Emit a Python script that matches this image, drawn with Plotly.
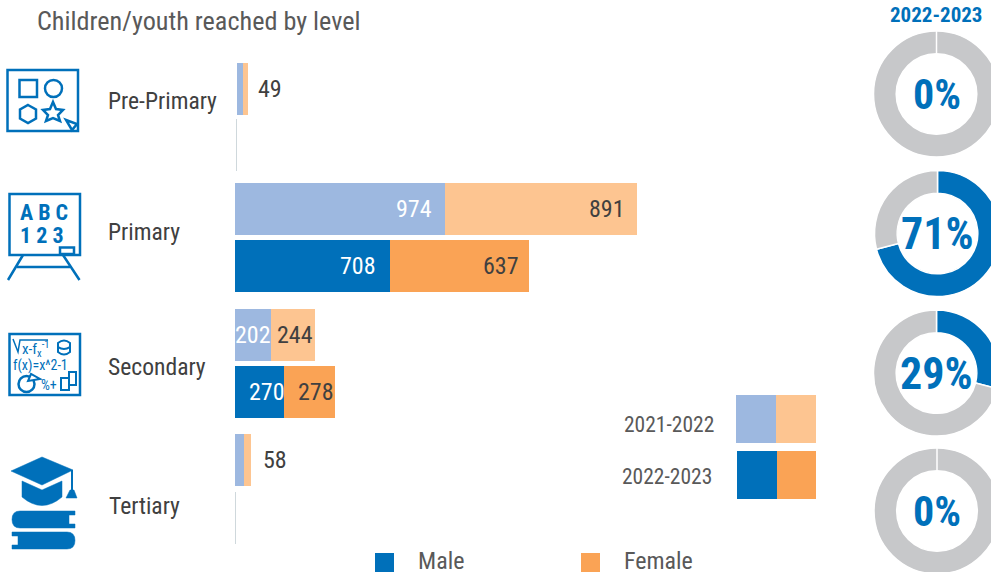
import plotly.graph_objects as go

# ---------- data ----------
categories = ["Pre-Primary", "Primary", "Secondary", "Tertiary"]
years = ["2021-2022", "2022-2023"]
male_2021 = [27, 974, 202, 33]
female_2021 = [22, 891, 244, 25]
male_2022 = [0, 708, 270, 0]
female_2022 = [0, 637, 278, 0]
share_2022 = [0, 71, 29, 0]
title_text = "Children/youth reached by level"

# ---------- styling / layout ----------
W, H = 1010, 590
FONT = "Roboto Condensed, Liberation Sans Narrow, Roboto, sans-serif"
BLUE, ORANGE, LBLUE, LORANGE = "#0070BA", "#FAA355", "#9DB8E0", "#FDC591"
GREY, TXT, TXT2 = "#C7C8CA", "#404040", "#595959"

# axis origin px, px per unit, top px, bottom px, inner label padding (male, female)
row_layout = [
    (237, 0.2245, 63, 115, None), (236.5, 0.2245, 119, 171, None),
    (235, 0.2155, 183, 235, (11, 10)), (235, 0.2186, 240, 292, (12, 8)),
    (235, 0.1800, 309, 361, (-2, 0)), (235, 0.1820, 366, 418, (-3, -1)),
    (235, 0.276, 434, 486, None), (235.5, 0.276, 492, 544, None),
]
row_values = []
for i in range(4):
    row_values.append((male_2021[i], female_2021[i]))
    row_values.append((male_2022[i], female_2022[i]))
donut_centers = [(936.5, 94), (937.5, 233.5), (936.5, 373), (937, 511)]
donut_r = 63

fig = go.Figure()
annotations, shapes = [], []
layout = {}
SPAN = 600
NUM = 24


def note(text, x, y, size, color=TXT, anchor="left", bold=False, xref="x9", yref="y9", xshift=0, family=FONT):
    annotations.append(dict(
        text=f"<b>{text}</b>" if bold else text, x=x, y=y, xref=xref, yref=yref, xshift=xshift,
        xanchor=anchor, yanchor="middle", showarrow=False,
        font=dict(family=family, size=size, color=color),
    ))


for r, ((x0, scale, top, bottom, pads), (m, f)) in enumerate(zip(row_layout, row_values), start=1):
    xa, ya = f"x{r}", f"y{r}"
    year = years[(r - 1) % 2]
    dark = (r - 1) % 2 == 1
    fig.add_trace(go.Bar(y=[0], x=[m], orientation="h", xaxis=xa, yaxis=ya, width=1,
                         marker=dict(color=BLUE if dark else LBLUE, line_width=0),
                         name="Male " + year, showlegend=False, hoverinfo="x"))
    fig.add_trace(go.Bar(y=[0], x=[f], orientation="h", xaxis=xa, yaxis=ya, width=1,
                         marker=dict(color=ORANGE if dark else LORANGE, line_width=0),
                         name="Female " + year, showlegend=False, hoverinfo="x"))
    layout[f"xaxis{r}"] = dict(domain=[x0 / W, (x0 + SPAN) / W], range=[0, SPAN / scale], visible=False,
                               anchor=ya, fixedrange=True)
    total = m + f
    layout[f"yaxis{r}"] = dict(domain=[1 - bottom / H, 1 - top / H], range=[-0.5, 0.5], anchor=xa,
                               showticklabels=False, ticks="", showgrid=False, zeroline=False,
                               showline=total == 0, linecolor="#CFD8DC", linewidth=1, fixedrange=True)
    if pads:
        annotations.append(dict(text=str(m), x=m, y=0, xref=xa, yref=ya, xanchor="right", xshift=-pads[0],
                                showarrow=False, font=dict(family=FONT, size=NUM, color="white")))
        annotations.append(dict(text=str(f), x=total, y=0, xref=xa, yref=ya, xanchor="right", xshift=-pads[1],
                                showarrow=False, font=dict(family=FONT, size=NUM, color=TXT)))
    elif total:
        annotations.append(dict(text=str(total), x=total, y=0, xref=xa, yref=ya, xanchor="left",
                                xshift=8 if r == 1 else 10, yshift=0, showarrow=False,
                                font=dict(family=FONT, size=NUM, color=TXT)))
barmode = "stack"

# donuts
for share, (cx, cy) in zip(share_2022, donut_centers):
    fig.add_trace(go.Pie(values=[share, 100 - share], sort=False, direction="clockwise", rotation=0,
                         hole=0.64, textinfo="none", hoverinfo="percent", showlegend=False,
                         marker=dict(colors=[BLUE, GREY], line=dict(color="white", width=1.5)),
                         domain=dict(x=[(cx - donut_r) / W, (cx + donut_r) / W],
                                     y=[1 - (cy + donut_r) / H, 1 - (cy - donut_r) / H])))
    size = 42 if share == 0 else 44
    note(f"{share}%", cx, cy + 0.5, size, BLUE, "center", True)
    if share == 0:
        shapes.append(dict(type="line", x0=cx, x1=cx, y0=cy - 64, y1=cy - 41, xref="x9", yref="y9",
                           line=dict(color="white", width=1.5)))

# overlay axes in pixel coordinates for decoration
fig.add_trace(go.Scatter(x=[None], y=[None], xaxis="x9", yaxis="y9", showlegend=False, hoverinfo="skip"))
layout["xaxis9"] = dict(domain=[0, 1], range=[0, W], visible=False, anchor="y9", fixedrange=True)
layout["yaxis9"] = dict(domain=[0, 1], range=[H, 0], visible=False, anchor="x9", fixedrange=True)

# texts
note(title_text, 35, 21, 26.2, TXT2)
note(years[1], 936, 15, 21, BLUE, "center", True)
for label, x, y in zip(categories, [106, 106, 106, 107], [101, 232, 367, 506]):
    note(label, x, y, 23.6, TXT)
note(years[0], 716, 424, 21.5, TXT2, "right")
note(years[1], 714, 476, 21.5, TXT2, "right")
note("Male", 416, 561, 24, TXT2)
note("Female", 622, 561, 24, TXT2)


def rect(x0, y0, x1, y1, fill=None, line=None, lw=0):
    shapes.append(dict(type="rect", x0=x0, y0=y0, x1=x1, y1=y1, xref="x9", yref="y9",
                       fillcolor=fill if fill else "rgba(0,0,0,0)",
                       line=dict(color=line if line else "rgba(0,0,0,0)", width=lw)))


def circle(cx, cy, rr, fill=None, line=BLUE, lw=2.5):
    shapes.append(dict(type="circle", x0=cx - rr, y0=cy - rr, x1=cx + rr, y1=cy + rr, xref="x9", yref="y9",
                       fillcolor=fill if fill else "rgba(0,0,0,0)", line=dict(color=line, width=lw)))


def path(d, fill=None, line=BLUE, lw=2.5):
    shapes.append(dict(type="path", path=d, xref="x9", yref="y9",
                       fillcolor=fill if fill else "rgba(0,0,0,0)",
                       line=dict(color=line if line else "rgba(0,0,0,0)", width=lw)))


# key swatches
rect(736, 395, 776, 443, LBLUE)
rect(776, 395, 816, 443, LORANGE)
rect(737, 451, 777, 499, BLUE)
rect(777, 451, 816, 499, ORANGE)
rect(375, 553, 394, 572, BLUE)
rect(581, 553, 600, 572, ORANGE)

# icon: pre-primary
rect(7.5, 70, 78, 131, None, BLUE, 2.5)
rect(19.5, 80, 37, 97, None, BLUE, 2.5)
circle(53.5, 88.5, 8.5)
path("M28,105 L36,109.5 L36,118.5 L28,123 L20,118.5 L20,109.5 Z")
path("M53,102 L56,109 L63,110 L58,115 L60,121 L53,118 L46,121 L48,115 L43,110 L50,109 Z")
path("M66,120 L77,124 L72,130 Z")

# icon: primary
rect(9.5, 194, 80, 255, None, BLUE, 2.5)
note("A B C", 44, 212, 22, BLUE, "center", True)
note("1 2 3", 41.5, 235, 22, BLUE, "center", True)
rect(60, 247.5, 74, 254, "white", BLUE, 2.5)
path("M23,255 L8,280 M63,255 L79.5,280 M17,267 L70,267")

# icon: secondary
rect(9.5, 334, 80, 395, None, BLUE, 2.5)
path("M13,339 L18,352 L20,340 L48,340", lw=1.5)
note("x-f<sub>x</sub><sup>-1</sup>", 20, 349, 15, BLUE)
note("f(x)=x^2-1", 11, 365, 14, BLUE)
path("M58,343 Q64,338 70,343 L70,352 Q64,357 58,352 Z M58,347 Q64,351 70,347", lw=2)
circle(26.5, 384, 8, lw=2.5)
path("M31,374 L28,381 L40,379 Z", fill="white", lw=2)
note("%+", 39, 385, 14, BLUE)
rect(69, 372, 76, 385, "white", BLUE, 2)
rect(61, 378, 69, 390, "white", BLUE, 2)

# icon: tertiary
path("M11,471 L42,457 L73,470 L42,485 Z", fill=BLUE, lw=0.5)
path("M22,481 L42,490 L62,481 L62,497 Q42,514 22,497 Z", fill=BLUE, lw=0.5)
path("M72,470 L72,490", lw=2)
path("M70,490 L74,490 L77,498 L66,498 Z", fill=BLUE, lw=0.5)
path("M20,511 L75,511 L75,515 L69,515 L69,524 L75,524 L75,528 L20,528 Q12,528 12,519.5 Q12,511 20,511 Z",
     fill=BLUE, lw=0.5)
path("M12,532 L67,532 Q75,532 75,540.5 Q75,549 67,549 L12,549 L12,545 L18,545 L18,536 L12,536 Z",
     fill=BLUE, lw=0.5)

fig.update_layout(width=W, height=H, margin=dict(l=0, r=0, t=0, b=0), autosize=False,
                  paper_bgcolor="white", plot_bgcolor="rgba(0,0,0,0)", barmode=barmode, bargap=0,
                  annotations=annotations, shapes=shapes, showlegend=False, **layout)

fig.write_html("out.html", config={"displayModeBar": False},
               post_script="document.documentElement.style.overflow='hidden';"
                           "document.body.style.overflow='hidden';document.body.style.margin='0';")
